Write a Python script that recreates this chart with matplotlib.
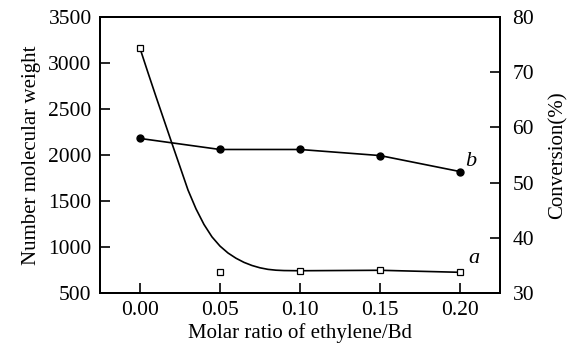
import matplotlib
matplotlib.use("Agg")
import matplotlib.pyplot as plt

plt.rcParams['font.family'] = ['Liberation Serif', 'DejaVu Serif']

# molar ratio of ethylene/Bd
ratio = [0.00, 0.05, 0.10, 0.15, 0.20]
# curve a: number molecular weight (left axis)
mn = [3160, 730, 742, 747, 725]
# curve b: conversion % (right axis)
conversion = [58.0, 56.0, 56.0, 54.9, 52.0]

# smooth trend line drawn through curve a
trend_x = [0.000, 0.005, 0.010, 0.015, 0.020, 0.025, 0.030, 0.035, 0.040,
           0.045, 0.050, 0.055, 0.060, 0.065, 0.070, 0.075, 0.080, 0.085,
           0.090, 0.100, 0.150, 0.200]
trend_y = [3160, 2895, 2635, 2380, 2125, 1873, 1620, 1415, 1245,
           1110, 1010, 935, 878, 833, 799, 774, 757, 748,
           744, 742, 747, 725]

xticks = [0.00, 0.05, 0.10, 0.15, 0.20]
xtick_labels = ["0.00", "0.05", "0.10", "0.15", "0.20"]

fig = plt.figure(figsize=(5.7, 3.47), dpi=100)
ax = fig.add_axes([0.1754, 0.1556, 0.7018, 0.7954])

ax.plot(trend_x, trend_y, color='black', lw=1.2)
ax.plot(ratio, mn, linestyle='none', marker='s', ms=4, mfc='white',
        mec='black', mew=0.9)

ax.set_xlim(-0.025, 0.225)
ax.set_ylim(500, 3500)
ax.set_xticks(xticks)
ax.set_xticklabels(xtick_labels)
ax.set_yticks(range(500, 3501, 500))
ax.tick_params(direction='in', length=7, width=1.2, labelsize=15.5, pad=6)
ax.tick_params(axis='y', pad=6)
for s in ax.spines.values():
    s.set_linewidth(1.4)
ax.set_xlabel("Molar ratio of ethylene/Bd", fontsize=15, labelpad=2)
ax.set_ylabel("Number molecular weight", fontsize=15, labelpad=5)

ax2 = ax.twinx()
ax2.plot(ratio, conversion, color='black', lw=1.2, marker='o', ms=5,
         mfc='black', mec='black')
ax2.set_ylim(30, 80)
ax2.set_yticks(range(30, 81, 10))
ax2.tick_params(direction='in', length=7, width=1.2, labelsize=15.5, pad=9)
for s in ax2.spines.values():
    s.set_linewidth(1.4)
ax2.set_ylabel("Conversion(%)", fontsize=15, labelpad=10)

ax2.text(0.2085, 36.3, "a", fontsize=16, style='italic', ha='center', va='center')
ax2.text(0.2067, 53.8, "b", fontsize=16, style='italic', ha='center', va='center')

fig.savefig("out.png", dpi=100)
